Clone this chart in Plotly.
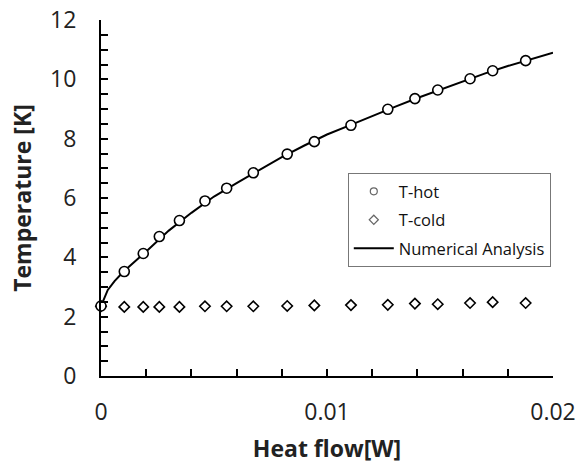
import plotly.graph_objects as go

q_hot = [0.0, 0.00103, 0.00187, 0.00258, 0.00347, 0.0046, 0.00556, 0.00674, 0.00824,
         0.00944, 0.01106, 0.01269, 0.01389, 0.0149, 0.01633, 0.01733, 0.01879]
t_hot = [2.36, 3.52, 4.13, 4.70, 5.24, 5.90, 6.33, 6.85, 7.48,
         7.90, 8.45, 8.99, 9.35, 9.64, 10.02, 10.29, 10.63]

q_cold = [0.0, 0.00103, 0.00187, 0.00258, 0.00347, 0.0046, 0.00556, 0.00674, 0.00824,
          0.00944, 0.01106, 0.01269, 0.01389, 0.0149, 0.01633, 0.01733, 0.01879]
t_cold = [2.35, 2.33, 2.33, 2.33, 2.33, 2.35, 2.35, 2.35, 2.36,
          2.38, 2.39, 2.40, 2.44, 2.42, 2.46, 2.49, 2.46]

q_num = [0.0, 0.0003, 0.0006, 0.001, 0.002, 0.003, 0.004, 0.005, 0.006, 0.007, 0.008,
         0.009, 0.010, 0.011, 0.012, 0.013, 0.014, 0.015, 0.016, 0.017, 0.018, 0.019, 0.020]
t_num = [2.36, 2.90, 3.20, 3.52, 4.20, 4.90, 5.50, 6.05, 6.50, 6.95, 7.38,
         7.77, 8.14, 8.45, 8.77, 9.07, 9.37, 9.65, 9.93, 10.20, 10.45, 10.68, 10.90]

x_ticks = [0, 0.01, 0.02]
x_ticktext = ["0", "0.01", "0.02"]

FONT = "Open Sans"

fig = go.Figure()
# data traces (legend shown via legend-only entries below)
fig.add_trace(go.Scatter(
    x=q_num, y=t_num, mode="lines", name="Numerical Analysis",
    line=dict(color="black", width=2), showlegend=False,
))
fig.add_trace(go.Scatter(
    x=q_cold, y=t_cold, mode="markers", name="T-cold",
    marker=dict(symbol="diamond", size=8, color="white", line=dict(color="black", width=1.6)),
    cliponaxis=False, showlegend=False,
))
fig.add_trace(go.Scatter(
    x=q_hot, y=t_hot, mode="markers", name="T-hot",
    marker=dict(symbol="circle", size=10, color="white", line=dict(color="black", width=1.6)),
    cliponaxis=False, showlegend=False,
))
# legend entries (lighter symbols, as in the original)
fig.add_trace(go.Scatter(
    x=[None], y=[None], mode="markers", name="T-hot", legendgroup="a",
    marker=dict(symbol="circle", size=7, color="white", line=dict(color="#666", width=1.2)),
))
fig.add_trace(go.Scatter(
    x=[None], y=[None], mode="markers", name="T-cold", legendgroup="b",
    marker=dict(symbol="diamond", size=7, color="white", line=dict(color="#666", width=1.2)),
))
fig.add_trace(go.Scatter(
    x=[None], y=[None], mode="lines", name="Numerical Analysis", legendgroup="c",
    line=dict(color="black", width=2),
))

fig.update_layout(
    width=578, height=468,
    margin=dict(l=101, r=25, t=20, b=92),
    paper_bgcolor="white", plot_bgcolor="white",
    font=dict(family=FONT, color="#222"),
    showlegend=True,
    legend=dict(
        x=0.546, y=0.57, xanchor="left", yanchor="top",
        bgcolor="white", bordercolor="#777", borderwidth=1,
        font=dict(family=FONT, size=16.5, color="#111"),
        traceorder="grouped", tracegroupgap=4, itemwidth=40,
    ),
)

fig.update_xaxes(
    range=[0, 0.02], tickvals=x_ticks, ticktext=x_ticktext,
    showgrid=False, zeroline=False,
    showline=True, linecolor="black", linewidth=2,
    ticks="inside", ticklen=7, tickwidth=2, tickcolor="black",
    minor=dict(dtick=0.002, ticks="inside", ticklen=7, tickwidth=2, tickcolor="black", showgrid=False),
    tickfont=dict(family=FONT, size=23, color="#222"),
    ticklabelstandoff=14, ticklabeloverflow="allow",
    title=dict(text="<b>Heat flow[W]</b>", font=dict(family=FONT, size=23, color="#222"), standoff=15),
    automargin=False,
)
fig.update_yaxes(
    range=[0, 12], dtick=2,
    showgrid=False, zeroline=False,
    showline=True, linecolor="black", linewidth=2,
    ticks="inside", ticklen=7, tickwidth=2, tickcolor="black",
    minor=dict(dtick=0.5, ticks="inside", ticklen=7, tickwidth=2, tickcolor="black", showgrid=False),
    tickfont=dict(family=FONT, size=23, color="#222"),
    ticklabelstandoff=18, ticklabeloverflow="allow",
    title=dict(text="<b>Temperature [K]</b>", font=dict(family=FONT, size=23, color="#222"), standoff=12),
    automargin=False,
)

fig.write_html(
    "out.html",
    config={"displayModeBar": False},
    post_script="document.body.style.margin='0';document.body.style.overflow='hidden';",
)
